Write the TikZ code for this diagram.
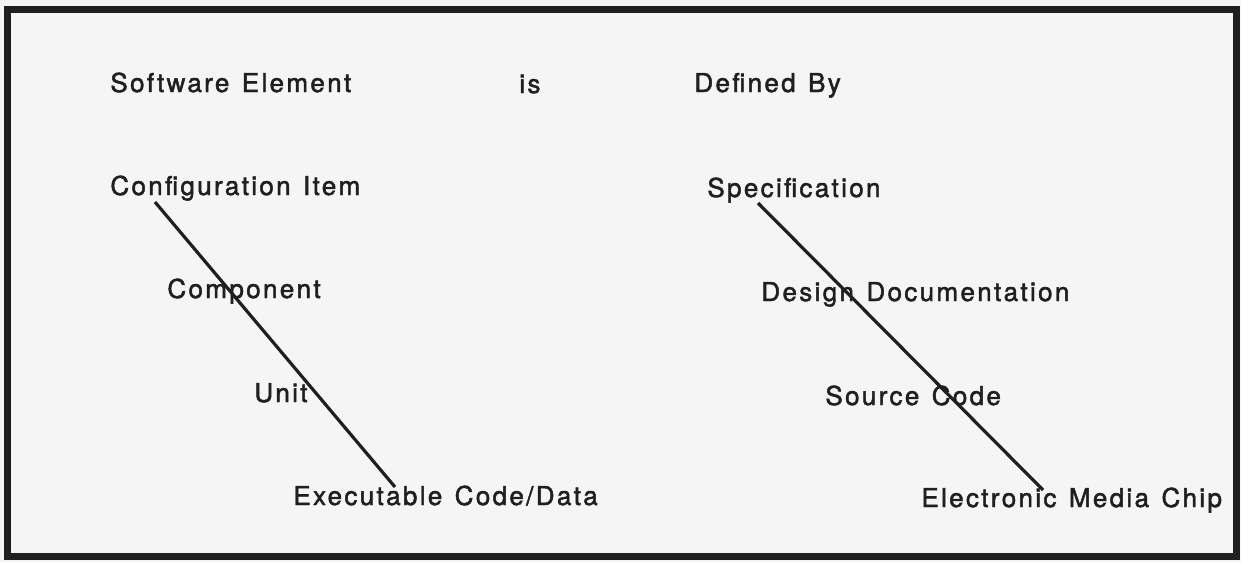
\documentclass[tikz,border=0pt]{standalone}
\usepackage{fontspec}
\usetikzlibrary{positioning}
\newfontfamily\chartfont[LetterSpace=9,WordSpace=1.3,FakeBold=1.8]{TeX Gyre Heros}
\definecolor{inkgray}{rgb}{0.12,0.12,0.12}
\definecolor{paper}{rgb}{0.96,0.96,0.96}

\begin{document}
\begin{tikzpicture}[x=0.5pt,y=-0.5pt,
    itemtext/.style={anchor=base west,inner sep=0pt,text=inkgray,font=\fontsize{13}{15}\chartfont},
    link/.style={draw=inkgray,line width=1.6pt}]
  \fill[paper] (0,0) rectangle (1241,562);
  \useasboundingbox (0,0) rectangle (1241,562);
  \draw[inkgray,line width=3.5pt] (7.5,9) rectangle (1236,556);

  % header row
  \node[itemtext] (SwElem)  at (110,92)  {Software Element};
  \node[itemtext] (Is)      at (519,93)  {is};
  \node[itemtext] (DefBy)   at (694,92)  {Defined By};

  % left column
  \node[itemtext] (CfgItem) at (110,195) {Configuration Item};
  \node[itemtext] (Comp)    at (167,298) {Component};
  \node[itemtext] (Unit)    at (254,402) {Unit};
  \node[itemtext] (ExeCode) at (293,505) {Executable Code/Data};

  % right column
  \node[itemtext] (Spec)    at (707,197) {Specification};
  \node[itemtext] (DesDoc)  at (761,301) {Design Documentation};
  \node[itemtext] (SrcCode) at (825,405) {Source Code};
  \node[itemtext] (EmChip)  at (921,507) {Electronic Media Chip};

  \draw[link] ([xshift=22.5pt,yshift=-3.5pt]CfgItem.base west) -- ([xshift=51pt,yshift=9pt]ExeCode.base west);
  \draw[link] ([xshift=25.5pt,yshift=-3pt]Spec.base west) -- ([xshift=61pt,yshift=8.5pt]EmChip.base west);
\end{tikzpicture}
\end{document}
